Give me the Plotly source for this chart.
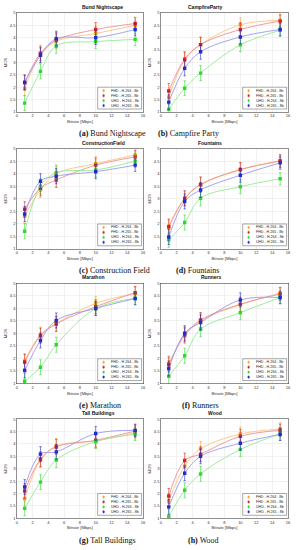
import plotly.graph_objects as go

W, H = 297, 550

BITRATES = [1, 3, 5, 10, 15]
X_TICKS = [0, 2, 4, 6, 8, 10, 12, 14, 16]
Y_TICKS = [1, 1.5, 2, 2.5, 3, 3.5, 4, 4.5, 5]
Y_TICK_LABELS = ["1", "1.5", "2", "2.5", "3", "3.5", "4", "4.5", "5"]

SERIES_NAMES = ["FHD - H.264 - 8b", "FHD - H.265 - 8b", "UHD - H.264 - 8b", "UHD - H.265 - 8b"]
MARKER_COLORS = ["#f7a21b", "#d92020", "#2fd82f", "#1f2ccf"]
LINE_COLORS = ["#fbc485", "#f09090", "#94ea94", "#9c99ee"]

TITLES = ["Bund Nightscape", "CampfireParty", "ConstructionField", "Fountains",
          "Marathon", "Runners", "Tall Buildings", "Wood"]
CAPTION_LETTERS = ["(a)", "(b)", "(c)", "(d)", "(e)", "(f)", "(g)", "(h)"]
CAPTION_NAMES = ["Bund Nightscape", "Campfire Party", "Construction Field", "Fountains",
                 "Marathon", "Runners", "Tall Buildings", "Wood"]

# MOS per series: FHD H.264, FHD H.265, UHD H.264, UHD H.265
bund = [[1.96, 3.30, 3.85, 4.17, 4.50],
        [2.19, 3.37, 3.90, 4.33, 4.57],
        [1.36, 2.64, 3.67, 3.84, 3.93],
        [2.19, 3.29, 3.96, 4.00, 4.33]]
campfire = [[1.60, 3.10, 3.72, 4.52, 4.70],
            [1.85, 3.13, 3.72, 4.33, 4.67],
            [1.11, 1.96, 2.57, 3.71, 4.30],
            [1.40, 2.76, 3.43, 4.03, 4.33]]
construction = [[2.30, 3.35, 4.00, 4.40, 4.75],
                [2.58, 3.42, 3.75, 4.34, 4.67],
                [1.70, 3.50, 4.04, 4.15, 4.50],
                [2.39, 3.70, 3.90, 4.08, 4.34]]
fountains = [[1.85, 3.00, 3.55, 4.15, 4.50],
             [1.89, 3.02, 3.57, 4.17, 4.51],
             [1.36, 2.05, 3.02, 3.48, 3.80],
             [1.47, 2.89, 3.35, 3.94, 4.43]]
marathon = [[1.90, 2.95, 3.40, 4.20, 4.60],
            [1.86, 2.91, 3.38, 4.07, 4.63],
            [1.09, 1.65, 2.55, 4.00, 4.40],
            [1.52, 2.72, 3.52, 4.00, 4.40]]
runners = [[1.80, 2.90, 3.50, 4.15, 4.60],
           [1.76, 2.95, 3.54, 4.17, 4.58],
           [1.29, 2.11, 3.17, 3.83, 4.44],
           [1.60, 3.01, 3.44, 4.34, 4.44]]
tall = [[1.80, 3.35, 3.92, 4.12, 4.45],
        [2.10, 3.39, 3.88, 4.15, 4.52],
        [1.40, 2.46, 3.35, 4.10, 4.39],
        [2.26, 3.59, 3.68, 4.42, 4.55]]
wood = [[1.70, 3.10, 3.80, 4.40, 4.60],
        [1.90, 3.33, 3.59, 4.31, 4.55],
        [1.07, 2.13, 2.79, 3.78, 4.40],
        [1.46, 2.82, 3.50, 4.03, 4.39]]
PANELS = [bund, campfire, construction, fountains, marathon, runners, tall, wood]

# half-width of 95% CI per bitrate
ERR = [0.30, 0.30, 0.30, 0.28, 0.25]

# plot-area geometry in pixels (left, right) per column, (top, bottom) per row
COLS = [(16, 144), (162, 291)]
ROWS = [(10, 110), (147, 248), (283, 384), (420, 520)]

def px(x):
    return x / W

def py(y):
    return 1 - y / H

fig = go.Figure()
annotations = []
shapes = []
FONT = "Liberation Sans"

for i, data in enumerate(PANELS):
    r, c = divmod(i, 2)
    xl, xr = COLS[c]
    yt, yb = ROWS[r]
    n = i + 1
    xa = "x" if n == 1 else f"x{n}"
    ya = "y" if n == 1 else f"y{n}"
    xk = "xaxis" if n == 1 else f"xaxis{n}"
    yk = "yaxis" if n == 1 else f"yaxis{n}"

    for s in range(4):
        fig.add_trace(go.Scatter(
            x=BITRATES, y=data[s], xaxis=xa, yaxis=ya, mode="lines",
            line=dict(color=LINE_COLORS[s], width=0.9, shape="spline", smoothing=1.0),
            showlegend=False, hoverinfo="skip"))
    for s in range(4):
        fig.add_trace(go.Scatter(
            x=BITRATES, y=data[s], xaxis=xa, yaxis=ya, mode="markers",
            marker=dict(symbol="square", size=3.4, color=MARKER_COLORS[s]),
            error_y=dict(type="data", array=ERR, color=MARKER_COLORS[s],
                         thickness=0.6, width=1.2),
            showlegend=False, name=SERIES_NAMES[s]))

    axis_common = dict(showline=True, linecolor="#444", linewidth=0.6, mirror=True,
                       showgrid=True, gridcolor="#e4e4e4", gridwidth=0.5,
                       zeroline=False, ticks="", tickfont=dict(size=4, color="#333", family=FONT))
    fig.layout[xk] = dict(domain=[px(xl), px(xr)], range=[0, 16], tickvals=X_TICKS,
                          ticktext=[str(v) for v in X_TICKS], anchor=ya,
                          title=dict(text="Bitrate [Mbps]", font=dict(size=4.2, color="#333", family=FONT),
                                     standoff=2), **axis_common)
    fig.layout[yk] = dict(domain=[py(yb), py(yt)], range=[1, 5], tickvals=Y_TICKS,
                          ticktext=Y_TICK_LABELS, anchor=xa,
                          title=dict(text="MOS", font=dict(size=4.2, color="#333", family=FONT),
                                     standoff=2), **axis_common)

    # panel title
    annotations.append(dict(x=px((xl + xr) / 2), y=py(yt - 1), xref="paper", yref="paper",
                            text=f"<b>{TITLES[i]}</b>", showarrow=False, yanchor="bottom",
                            font=dict(size=5, color="#111", family=FONT)))
    # caption
    annotations.append(dict(x=px(xl + (xr - xl) / 2 - 3), y=py(yb + 22), xref="paper", yref="paper",
                            text=f"<b>{CAPTION_LETTERS[i]}</b> {CAPTION_NAMES[i]}", showarrow=False,
                            yanchor="middle", font=dict(size=8, color="#111", family="Liberation Serif")))

    # legend box (manual, Plotly's legend rows can't be this small)
    lx0, lx1 = xr - 46, xr - 1.5
    ly0, ly1 = yb - 25, yb - 3
    shapes.append(dict(type="rect", xref="paper", yref="paper",
                       x0=px(lx0), x1=px(lx1), y0=py(ly1), y1=py(ly0),
                       line=dict(color="#555", width=0.5), fillcolor="white", layer="above"))
    for s in range(4):
        cy = ly0 + 3.5 + s * 5
        shapes.append(dict(type="line", xref="paper", yref="paper",
                           x0=px(lx0 + 6), x1=px(lx0 + 6), y0=py(cy + 1.8), y1=py(cy - 1.8),
                           line=dict(color=MARKER_COLORS[s], width=0.5), layer="above"))
        shapes.append(dict(type="rect", xref="paper", yref="paper",
                           x0=px(lx0 + 5), x1=px(lx0 + 7), y0=py(cy + 1), y1=py(cy - 1),
                           line=dict(width=0), fillcolor=MARKER_COLORS[s], layer="above"))
        annotations.append(dict(x=px(lx0 + 11), y=py(cy), xref="paper", yref="paper",
                                text=SERIES_NAMES[s], showarrow=False, xanchor="left",
                                yanchor="middle", font=dict(size=3.6, color="#222", family=FONT)))

fig.update_layout(width=W, height=H, margin=dict(l=0, r=0, t=0, b=0),
                  paper_bgcolor="white", plot_bgcolor="white",
                  annotations=annotations, shapes=shapes, showlegend=False)

fig.write_html("out.html", config={"displayModeBar": False, "staticPlot": True},
               post_script="document.body.style.margin='0';document.body.style.padding='0';")
